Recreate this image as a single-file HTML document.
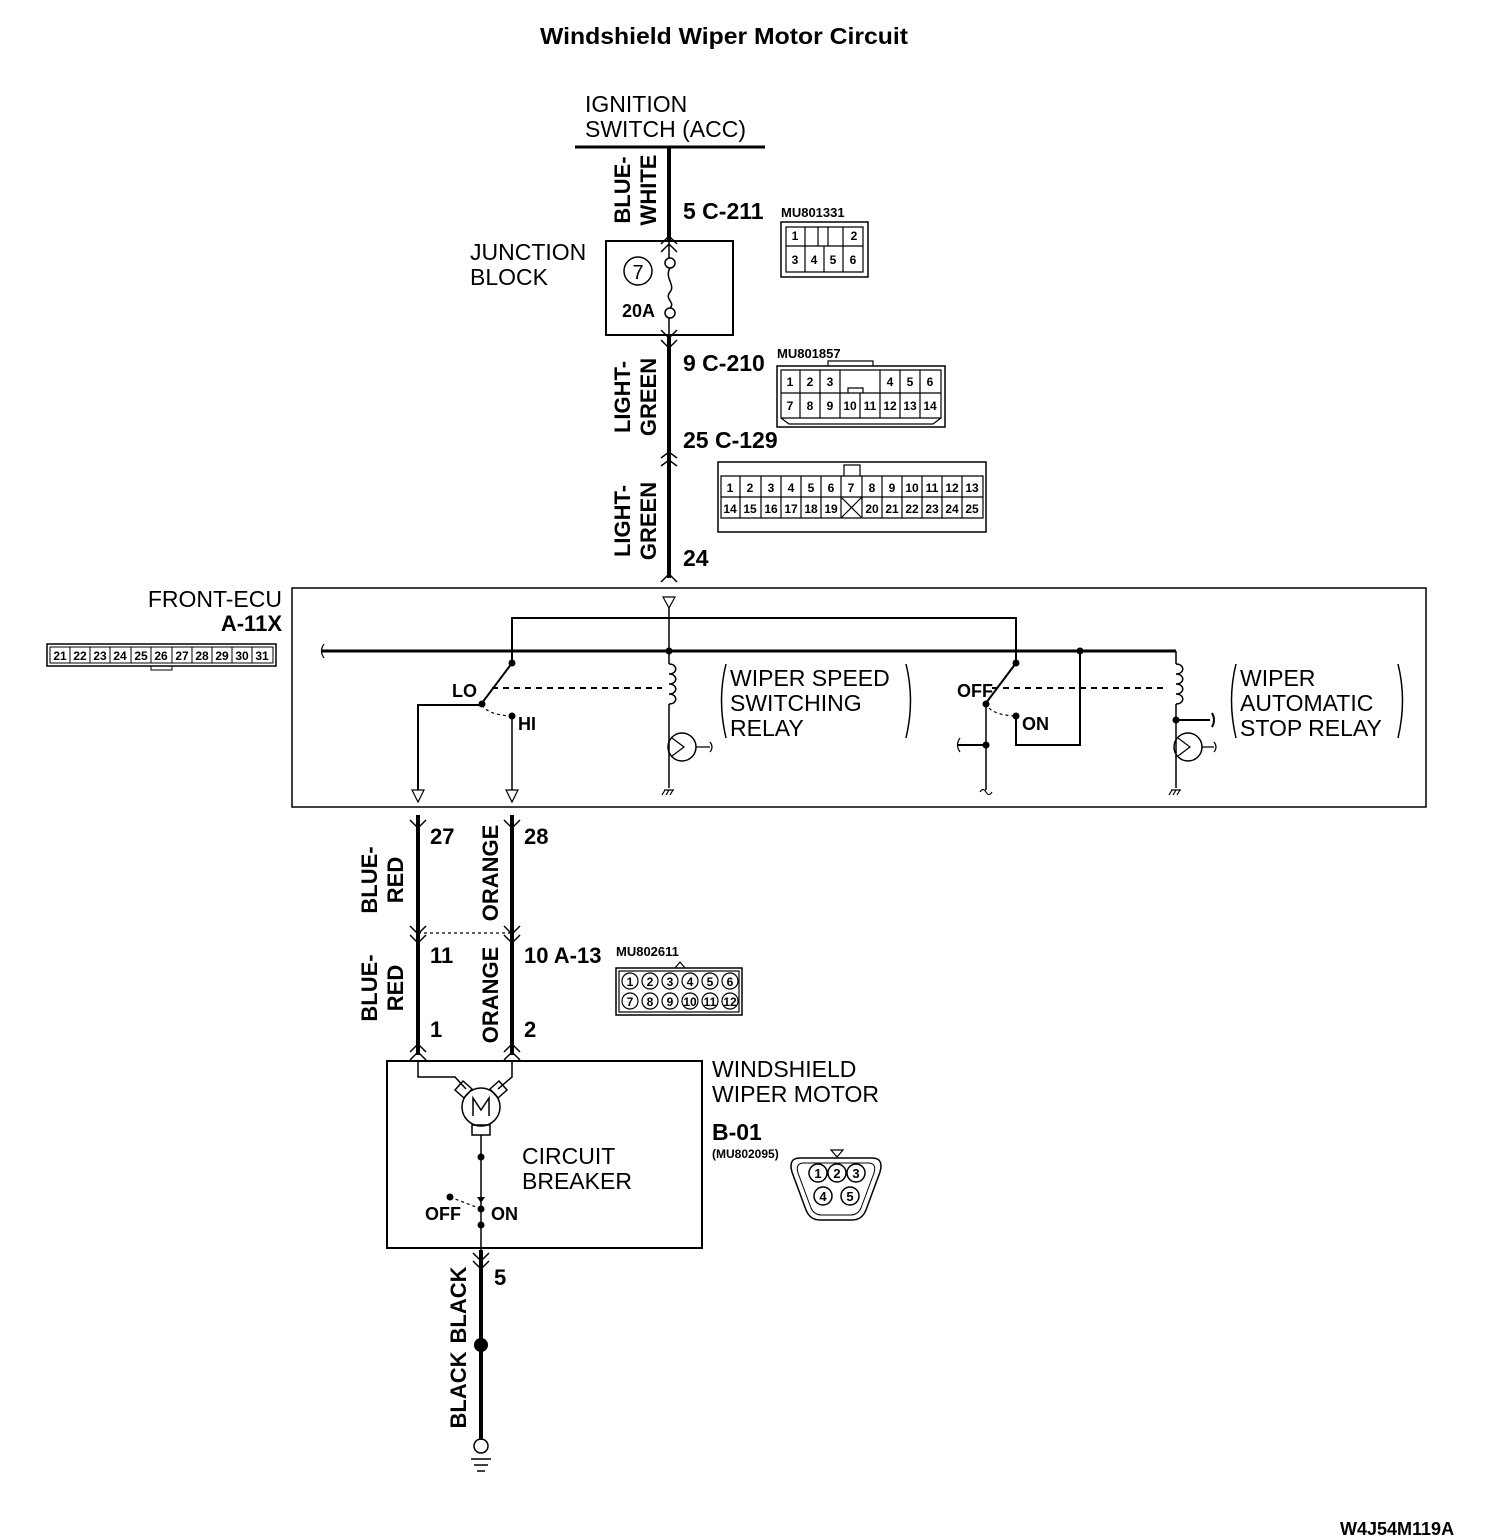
<!DOCTYPE html>
<html><head><meta charset="utf-8"><style>
body{margin:0;background:#fff}
svg{display:block}
text{font-family:"Liberation Sans",sans-serif;fill:#000}
.b{font-weight:bold}
.n{font-family:"Liberation Sans Narrow","Liberation Sans",sans-serif;font-weight:bold}
</style></head><body>
<svg width="1504" height="1540" viewBox="0 0 1504 1540" xmlns="http://www.w3.org/2000/svg">
<text x="540" y="44" textLength="368" lengthAdjust="spacingAndGlyphs" class="b" font-size="23">Windshield Wiper Motor Circuit</text>
<text x="585" y="112" font-size="23">IGNITION</text>
<text x="585" y="137" font-size="23">SWITCH (ACC)</text>
<g stroke="#000" fill="none">
<line x1="575" y1="147" x2="765" y2="147" stroke-width="3"/>
<line x1="669" y1="147" x2="669" y2="241" stroke-width="4"/>
<line x1="669" y1="335" x2="669" y2="578" stroke-width="4"/>
<g stroke-width="1.5">
<path d="M661,244 L669,236 L677,244 M661,252 L669,244 L677,252"/>
<path d="M661,330 L669,338 L677,330 M661,340 L669,348 L677,340"/>
<path d="M661,458 L669,452 L677,458 M661,466 L669,460 L677,466"/>
<path d="M661,582 L669,574 L677,582"/>
</g>
<rect x="606" y="241" width="127" height="94" stroke-width="2"/>
<circle cx="638" cy="271" r="14" stroke-width="1.5"/>
<line x1="669" y1="241" x2="669" y2="258" stroke-width="1.5"/>
<circle cx="670" cy="263" r="5" stroke-width="1.5"/>
<path d="M670,268 C664,278 676,285 670,292 C664,300 676,302 670,308" stroke-width="1.5"/>
<circle cx="670" cy="313" r="5" stroke-width="1.5"/>
<line x1="669" y1="318" x2="669" y2="335" stroke-width="1.5"/>
<rect x="781" y="222" width="87" height="55" stroke-width="1.5"/>
<path d="M786,227 H863 V272 H786 Z M786,246 H863 M805,227 V272 M824,246 V272 M843,227 V272 M818,227 h10 v19 h-10z" stroke-width="1.2"/>
<rect x="777" y="366" width="168" height="61" stroke-width="1.5"/>
<path d="M828,366 v-5 h45 v5 M781,370 H941 V418 H781 Z M781,393 H941 M800,370 V418 M820,370 V418 M840,370 V418 M860,393 V418 M880,370 V418 M900,370 V418 M920,370 V418 M840,393 H880 M848,393 v-5 h15 v5 M781,418 l8,6 H933 l8,-6" stroke-width="1.2"/>
<rect x="718" y="462" width="268" height="70" stroke-width="1.5"/>
<path d="M721,476 H983 V518 H721 Z M721,497 H983 M740,476 V518 M761,476 V518 M781,476 V518 M801,476 V518 M821,476 V518 M841,476 V518 M862,476 V518 M882,476 V518 M902,476 V518 M922,476 V518 M942,476 V518 M962,476 V518 M841,497 L862,518 M862,497 L841,518 M844,476 v-11 h16 v11" stroke-width="1.2"/>
<rect x="292" y="588" width="1134" height="219" stroke-width="1.5"/>
<rect x="47" y="644" width="229" height="22" stroke-width="1.5"/>
<path d="M50,647 H273 V663 H50 Z M70,647 V663 M90,647 V663 M110,647 V663 M131,647 V663 M151,647 V663 M172,647 V663 M192,647 V663 M212,647 V663 M232,647 V663 M252,647 V663 M151,666 v4 h21 v-4" stroke-width="1"/>
<path d="M663,597 h12 l-6,11 z" stroke-width="1.2"/>
<line x1="669" y1="608" x2="669" y2="651" stroke-width="1.5"/>
<path d="M512,663 V618 H1016 V663" stroke-width="2"/>
<line x1="322" y1="651" x2="1176" y2="651" stroke-width="3"/>
<path d="M324,644 q-5,7 0,14" stroke-width="1.2"/>
<line x1="512" y1="663" x2="482" y2="703" stroke-width="2"/>
<path d="M418,790 V705 H482" stroke-width="2"/>
<path d="M482,705 q6,10 30,11" stroke-width="1.2" stroke-dasharray="3,3"/>
<line x1="512" y1="716" x2="512" y2="790" stroke-width="1.5"/>
<line x1="418" y1="705" x2="418" y2="790" stroke-width="1.5"/>
<path d="M412,790 h12 l-6,12 z M506,790 h12 l-6,12 z" stroke-width="1.2"/>
<line x1="492" y1="688" x2="662" y2="688" stroke-width="2" stroke-dasharray="6,5"/>
<path d="M669,651 V664 M669,664 c9,0 9,10 0,10 c9,0 9,10 0,10 c9,0 9,10 0,10 c9,0 9,10 0,10 M669,704 V788" stroke-width="1.5"/>
<circle cx="682" cy="747" r="14" stroke-width="1.5"/>
<path d="M672,738 L684,747 L672,756 M696,747 h14 M710,742 q4,5 0,10" stroke-width="1.2"/>
<path d="M664,790 h10 M665,790 l-3,5 M669,790 l-3,5 M673,790 l-3,5" stroke-width="1.2"/>
<path d="M726,664 q-9,36 0,74 M906,664 q9,36 0,74" stroke-width="1.5"/>
<line x1="1016" y1="663" x2="986" y2="703" stroke-width="2"/>
<path d="M986,703 q4,12 30,13" stroke-width="1.2" stroke-dasharray="3,3"/>
<line x1="986" y1="703" x2="986" y2="790" stroke-width="1.5"/>
<path d="M958,745 H986" stroke-width="2"/><path d="M960,738 q-5,7 0,14" stroke-width="1.2"/>
<path d="M980,792 q3,-5 6,0 q3,5 6,0" stroke-width="1.2"/>
<path d="M1016,716 V745 H1080 V651" stroke-width="2"/>
<line x1="992" y1="688" x2="1168" y2="688" stroke-width="2" stroke-dasharray="6,5"/>
<path d="M1176,651 V664 M1176,664 c9,0 9,10 0,10 c9,0 9,10 0,10 c9,0 9,10 0,10 c9,0 9,10 0,10 M1176,704 V788" stroke-width="1.5"/>
<path d="M1176,720 H1210 M1212,713 q4,7 0,14" stroke-width="2"/>
<circle cx="1188" cy="747" r="14" stroke-width="1.5"/>
<path d="M1178,738 L1190,747 L1178,756 M1202,747 h12 M1214,742 q4,5 0,10" stroke-width="1.2"/>
<path d="M1171,790 h10 M1172,790 l-3,5 M1176,790 l-3,5 M1180,790 l-3,5" stroke-width="1.2"/>
<path d="M1236,664 q-9,36 0,74 M1398,664 q9,36 0,74" stroke-width="1.5"/>
<line x1="418" y1="815" x2="418" y2="1055" stroke-width="4"/>
<line x1="512" y1="815" x2="512" y2="1055" stroke-width="4"/>
<path d="M410,820 L418,828 L426,820 M504,820 L512,828 L520,820" stroke-width="1.5"/>
<path d="M410,926 L418,934 L426,926 M410,935 L418,943 L426,935 M504,926 L512,934 L520,926 M504,935 L512,943 L520,935" stroke-width="1.5"/>
<line x1="418" y1="933" x2="512" y2="933" stroke-width="1.2" stroke-dasharray="3,3"/>
<path d="M410,1052 L418,1044 L426,1052 M410,1060 L418,1052 L426,1060 M504,1052 L512,1044 L520,1052 M504,1060 L512,1052 L520,1060" stroke-width="1.5"/>
<rect x="616" y="968" width="126" height="47" stroke-width="1.5"/>
<path d="M675,968 l5,-6 l5,6" stroke-width="1.2"/>
<g stroke-width="1.2">
<circle cx="630" cy="981" r="8"/><circle cx="650" cy="981" r="8"/><circle cx="670" cy="981" r="8"/><circle cx="690" cy="981" r="8"/><circle cx="710" cy="981" r="8"/><circle cx="730" cy="981" r="8"/>
<circle cx="630" cy="1001" r="8"/><circle cx="650" cy="1001" r="8"/><circle cx="670" cy="1001" r="8"/><circle cx="690" cy="1001" r="8"/><circle cx="710" cy="1001" r="8"/><circle cx="730" cy="1001" r="8"/>
<rect x="619" y="971" width="120" height="41"/>
</g>
<rect x="387" y="1061" width="315" height="187" stroke-width="2"/>
<path d="M418,1061 V1077 H455 L466,1089 M512,1061 V1077 L498,1089" stroke-width="1.5"/>
<path d="M455,1090 l8,-9 l9,8 l-8,9 z M490,1089 l9,-8 l8,9 l-9,8 z" stroke-width="1.5"/>
<circle cx="481" cy="1107" r="19" stroke-width="1.5"/>
<path d="M473,1116 V1098 L481,1110 L489,1098 V1116" stroke-width="1.5"/>
<rect x="472" y="1125" width="18" height="10" stroke-width="1.5"/>
<line x1="481" y1="1135" x2="481" y2="1250" stroke-width="1.5"/>
<path d="M450,1197 L481,1209" stroke-width="1.2" stroke-dasharray="3,3"/>
<line x1="481" y1="1250" x2="481" y2="1440" stroke-width="4"/>
<path d="M473,1253 L481,1261 L489,1253 M473,1261 L481,1269 L489,1261" stroke-width="1.5"/>
<circle cx="481" cy="1446" r="7" stroke-width="1.5"/>
<path d="M471,1459 h20 M474,1465 h14 M477,1471 h8" stroke-width="1.5"/>
<path d="M800,1158 H872 Q884,1158 880,1172 L866,1210 Q862,1220 852,1220 H820 Q810,1220 806,1210 L792,1172 Q788,1158 800,1158 Z" stroke-width="1.5"/>
<path d="M804,1163 H868 Q877,1163 874,1173 L861,1208 Q858,1215 850,1215 H822 Q814,1215 811,1208 L798,1173 Q795,1163 804,1163 Z" stroke-width="1"/>
<path d="M831,1150 h12 l-6,7 z" stroke-width="1.2"/>
<circle cx="818" cy="1173" r="9" stroke-width="1.5"/><circle cx="837" cy="1173" r="9" stroke-width="1.5"/><circle cx="856" cy="1173" r="9" stroke-width="1.5"/>
<circle cx="823" cy="1196" r="9" stroke-width="1.5"/><circle cx="850" cy="1196" r="9" stroke-width="1.5"/>
</g>
<g fill="#000">
<circle cx="669" cy="651" r="3.5"/><circle cx="1080" cy="651" r="3.5"/>
<circle cx="512" cy="663" r="3.5"/><circle cx="482" cy="704" r="3.5"/><circle cx="512" cy="716" r="3.5"/>
<circle cx="1016" cy="663" r="3.5"/><circle cx="986" cy="704" r="3.5"/><circle cx="1016" cy="716" r="3.5"/><circle cx="986" cy="745" r="3.5"/>
<circle cx="1176" cy="720" r="3.5"/>
<circle cx="481" cy="1157" r="3.5"/><circle cx="450" cy="1197" r="3.5"/><circle cx="481" cy="1209" r="3.5"/><circle cx="481" cy="1225" r="3.5"/>
<path d="M477,1197 h8 l-4,6 z"/>
<circle cx="481" cy="1345" r="7"/>
</g>
<g class="n">
<text x="683" y="219" font-size="23">5 C-211</text>
<text x="683" y="371" font-size="23">9 C-210</text>
<text x="683" y="448" font-size="23">25 C-129</text>
<text x="683" y="566" font-size="23">24</text>
<text x="638" y="279" font-size="20" text-anchor="middle" font-weight="normal">7</text>
<text x="622" y="317" font-size="18">20A</text>
<text x="781" y="217" font-size="13">MU801331</text>
<text x="777" y="358" font-size="13">MU801857</text>
<text x="616" y="956" font-size="13">MU802611</text>
<text x="452" y="697" font-size="18">LO</text>
<text x="518" y="730" font-size="18">HI</text>
<text x="957" y="697" font-size="18">OFF</text>
<text x="1022" y="730" font-size="18">ON</text>
<text x="430" y="844" font-size="22">27</text>
<text x="524" y="844" font-size="22">28</text>
<text x="430" y="963" font-size="22">11</text>
<text x="524" y="963" font-size="22">10 A-13</text>
<text x="430" y="1037" font-size="22">1</text>
<text x="524" y="1037" font-size="22">2</text>
<text x="425" y="1220" font-size="18">OFF</text>
<text x="491" y="1220" font-size="18">ON</text>
<text x="712" y="1140" font-size="23">B-01</text>
<text x="712" y="1158" font-size="12">(MU802095)</text>
<text x="494" y="1285" font-size="22">5</text>
<text x="282" y="631" font-size="22" text-anchor="end">A-11X</text>
<text x="1340" y="1535" font-size="18">W4J54M119A</text>
</g>
<g class="n" font-size="12" text-anchor="middle">
<text x="795" y="240">1</text><text x="854" y="240">2</text>
<text x="795" y="264">3</text><text x="814" y="264">4</text><text x="833" y="264">5</text><text x="853" y="264">6</text>
<text x="790" y="386">1</text><text x="810" y="386">2</text><text x="830" y="386">3</text><text x="890" y="386">4</text><text x="910" y="386">5</text><text x="930" y="386">6</text>
<text x="790" y="410">7</text><text x="810" y="410">8</text><text x="830" y="410">9</text><text x="850" y="410">10</text><text x="870" y="410">11</text><text x="890" y="410">12</text><text x="910" y="410">13</text><text x="930" y="410">14</text>
<text x="730" y="492">1</text><text x="750" y="492">2</text><text x="771" y="492">3</text><text x="791" y="492">4</text><text x="811" y="492">5</text><text x="831" y="492">6</text><text x="851" y="492">7</text><text x="872" y="492">8</text><text x="892" y="492">9</text><text x="912" y="492">10</text><text x="932" y="492">11</text><text x="952" y="492">12</text><text x="972" y="492">13</text>
<text x="730" y="513">14</text><text x="750" y="513">15</text><text x="771" y="513">16</text><text x="791" y="513">17</text><text x="811" y="513">18</text><text x="831" y="513">19</text><text x="872" y="513">20</text><text x="892" y="513">21</text><text x="912" y="513">22</text><text x="932" y="513">23</text><text x="952" y="513">24</text><text x="972" y="513">25</text>
<text x="60" y="660">21</text><text x="80" y="660">22</text><text x="100" y="660">23</text><text x="120" y="660">24</text><text x="141" y="660">25</text><text x="161" y="660">26</text><text x="182" y="660">27</text><text x="202" y="660">28</text><text x="222" y="660">29</text><text x="242" y="660">30</text><text x="262" y="660">31</text>
<text x="630" y="986">1</text><text x="650" y="986">2</text><text x="670" y="986">3</text><text x="690" y="986">4</text><text x="710" y="986">5</text><text x="730" y="986">6</text>
<text x="630" y="1006">7</text><text x="650" y="1006">8</text><text x="670" y="1006">9</text><text x="690" y="1006">10</text><text x="710" y="1006">11</text><text x="730" y="1006">12</text>
<text x="818" y="1178" font-size="13">1</text><text x="837" y="1178" font-size="13">2</text><text x="856" y="1178" font-size="13">3</text>
<text x="823" y="1201" font-size="13">4</text><text x="850" y="1201" font-size="13">5</text>
</g>
<g class="n" font-size="22" text-anchor="middle">
<text transform="translate(630,190) rotate(-90)">BLUE-</text>
<text transform="translate(656,190) rotate(-90)">WHITE</text>
<text transform="translate(630,397) rotate(-90)">LIGHT-</text>
<text transform="translate(656,397) rotate(-90)">GREEN</text>
<text transform="translate(630,521) rotate(-90)">LIGHT-</text>
<text transform="translate(656,521) rotate(-90)">GREEN</text>
<text transform="translate(377,880) rotate(-90)">BLUE-</text>
<text transform="translate(403,880) rotate(-90)">RED</text>
<text transform="translate(498,873) rotate(-90)">ORANGE</text>
<text transform="translate(377,988) rotate(-90)">BLUE-</text>
<text transform="translate(403,988) rotate(-90)">RED</text>
<text transform="translate(498,995) rotate(-90)">ORANGE</text>
<text transform="translate(466,1305) rotate(-90)">BLACK</text>
<text transform="translate(466,1390) rotate(-90)">BLACK</text>
</g>
<g font-size="23">
<text x="470" y="260">JUNCTION</text>
<text x="470" y="285">BLOCK</text>
<text x="282" y="607" text-anchor="end">FRONT-ECU</text>
<text x="730" y="686">WIPER SPEED</text>
<text x="730" y="711">SWITCHING</text>
<text x="730" y="736">RELAY</text>
<text x="1240" y="686">WIPER</text>
<text x="1240" y="711">AUTOMATIC</text>
<text x="1240" y="736">STOP RELAY</text>
<text x="522" y="1164">CIRCUIT</text>
<text x="522" y="1189">BREAKER</text>
<text x="712" y="1077">WINDSHIELD</text>
<text x="712" y="1102">WIPER MOTOR</text>
</g>
</svg>
</body></html>
